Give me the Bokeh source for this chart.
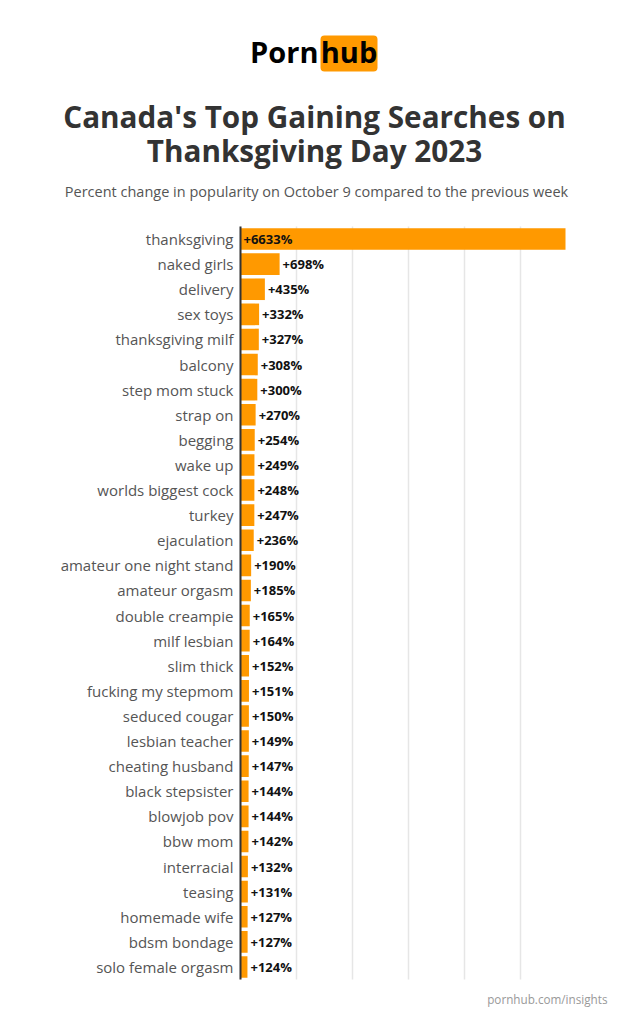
from bokeh.plotting import figure
from bokeh.models import Range1d, FixedTicker, ColumnDataSource, Grid
from bokeh.core.properties import value
from bokeh.embed import file_html
from bokeh.resources import INLINE

categories = ["thanksgiving", "naked girls", "delivery", "sex toys", "thanksgiving milf",
              "balcony", "step mom stuck", "strap on", "begging", "wake up",
              "worlds biggest cock", "turkey", "ejaculation", "amateur one night stand",
              "amateur orgasm", "double creampie", "milf lesbian", "slim thick",
              "fucking my stepmom", "seduced cougar", "lesbian teacher", "cheating husband",
              "black stepsister", "blowjob pov", "bbw mom", "interracial", "teasing",
              "homemade wife", "bdsm bondage", "solo female orgasm"]
values = [6633, 698, 435, 332, 327, 308, 300, 270, 254, 249, 248, 247, 236, 190,
          185, 165, 164, 152, 151, 150, 149, 147, 144, 144, 142, 132, 131, 127, 127, 124]
grid_ticks = [0, 1000, 2000, 3000, 4000, 5000]
x_cap = 5800  # the longest bar is cut at the plot's right edge

FONT = "Open Sans"
ORANGE = "#ff9900"
W, H = 626, 1016
# plot area in page pixels
PL, PR, PT, PB = 240, 565, 226, 979

n = len(categories)
row_px = (PB - PT) / n
kx = x_cap / (PR - PL)
x_range = Range1d(-PL * kx, x_cap + (W - PR) * kx)
y_lo, y_hi = -0.5, n - 0.5
y_range = Range1d(y_lo - (H - PB) / row_px, y_hi + PT / row_px)

ypos = [n - 1 - i for i in range(n)]
src = ColumnDataSource(dict(
    y=ypos,
    val=values,
    bar=[min(v, x_cap) for v in values],
    lx=[0 if v > x_cap else v for v in values],
    lab=["+%d%%" % v for v in values],
))

p = figure(width=W, height=H, x_range=x_range, y_range=y_range,
           output_backend="svg", toolbar_location=None, min_border=0,
           x_axis_location=None)
p.outline_line_color = None
p.grid.visible = False
p.extra_x_ranges = {"px": Range1d(0, W)}
p.extra_y_ranges = {"px": Range1d(H, 0)}

# vertical grid lines limited to the plot area
if "cross_bounds" in Grid.properties():
    g = Grid(dimension=0, ticker=FixedTicker(ticks=grid_ticks), grid_line_color="#e6e6e6",
             grid_line_width=1.5, cross_bounds=(y_lo, y_hi))
    p.add_layout(g)
else:
    p.segment(x0=grid_ticks, x1=grid_ticks, y0=[y_lo] * len(grid_ticks),
              y1=[y_hi] * len(grid_ticks), line_color="#e6e6e6", line_width=1.5)

p.hbar(y="y", right="bar", left=0, height=0.86, source=src, fill_color=ORANGE,
       line_color=None)
p.text(x="lx", y="y", text="lab", source=src, x_offset=3, text_font=value(FONT),
       text_font_style="bold", text_font_size="13px", text_color="#111111",
       text_baseline="middle", text_align="left")

yax = p.yaxis[0]
yax.fixed_location = 0
yax.bounds = (y_lo, y_hi)
yax.ticker = FixedTicker(ticks=ypos)
yax.major_label_overrides = {float(y): c for y, c in zip(ypos, categories)}
yax.axis_line_color = "#333333"
yax.axis_line_width = 2
yax.major_tick_line_color = None
yax.minor_tick_line_color = None
yax.major_tick_out = 0
yax.major_tick_in = 0
yax.major_label_standoff = 7
yax.major_label_text_font = FONT
yax.major_label_text_font_size = "15px"
yax.major_label_text_color = "#555555"


def txt(text, x, y, size, color, bold=False, align="center", baseline="middle"):
    p.text(x=[x], y=[y], text=[text], x_range_name="px", y_range_name="px",
           text_font=value(FONT), text_font_size=size, text_color=color,
           text_font_style="bold" if bold else "normal", text_align=align,
           text_baseline=baseline)


# logo
p.quad(left=[320], right=[377], top=[35], bottom=[71], x_range_name="px",
       y_range_name="px", fill_color=ORANGE, line_color=None, border_radius=4)
txt("Porn", 318, 51, "29px", "#000000", bold=True, align="right")
txt("hub", 348.5, 51, "29px", "#000000", bold=True)
# title + subtitle
txt("Canada's Top Gaining Searches on", 314, 116, "29.7px", "#333333", bold=True)
txt("Thanksgiving Day 2023", 314, 150, "29.7px", "#333333", bold=True)
txt("Percent change in popularity on October 9 compared to the previous week",
    316, 191, "14.5px", "#555555")
# footer
txt("pornhub.com/insights", 607, 998, "11.7px", "#999999", align="right")

open("out.html", "w").write(file_html(p, INLINE))
